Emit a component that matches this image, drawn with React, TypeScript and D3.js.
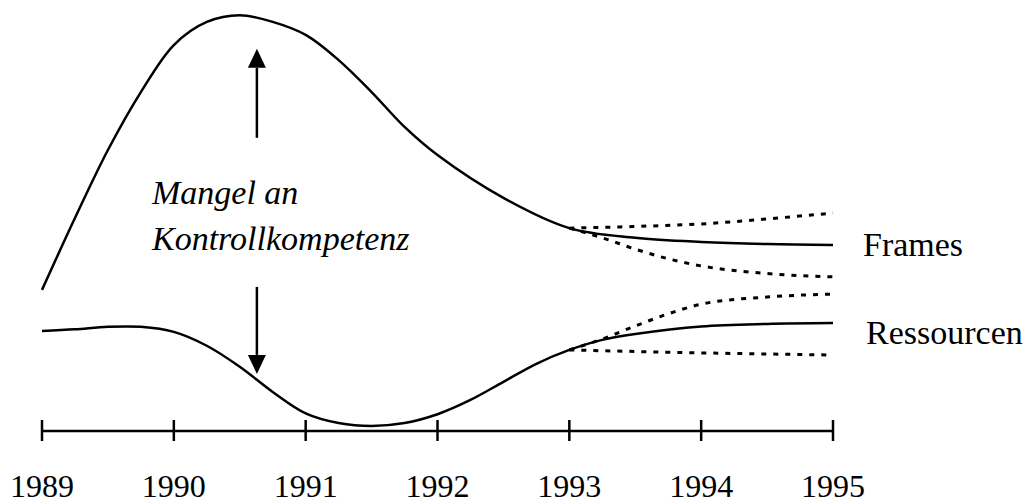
import React from "react";
import * as d3 from "d3";

const years = [1989, 1990, 1991, 1992, 1993, 1994, 1995];

// solid curves
const framesT = [1989, 1989.25, 1989.5, 1989.75, 1990, 1990.25, 1990.5, 1990.75, 1991, 1991.25, 1991.5, 1991.75, 1992, 1992.5, 1993, 1993.5, 1994, 1994.5, 1995];
const framesV = [33.6, 50.7, 66.9, 80.7, 91.9, 97.4, 99.0, 97.4, 94.3, 88.3, 80.7, 72.4, 65.7, 55.5, 48.3, 46.0, 45.0, 44.5, 44.3];

const resT = [1989, 1989.25, 1989.5, 1989.75, 1990, 1990.25, 1990.5, 1990.75, 1991, 1991.25, 1991.5, 1991.75, 1992, 1992.25, 1992.5, 1992.75, 1993, 1993.25, 1993.5, 1994, 1994.5, 1995];
const resV = [23.8, 24.2, 24.8, 24.8, 23.6, 20.3, 15.3, 9.3, 4.2, 1.9, 1.2, 1.9, 4.0, 7.4, 11.7, 16.0, 19.3, 21.7, 23.1, 24.9, 25.5, 25.7];

// dotted scenarios after 1993
const framesHighT = [1993, 1993.5, 1994, 1994.5, 1995];
const framesHighV = [48.3, 48.7, 49.3, 50.5, 51.9];
const framesLowT = [1993, 1993.25, 1993.5, 1993.75, 1994, 1994.5, 1995];
const framesLowV = [48.3, 46.0, 43.3, 41.0, 39.3, 37.5, 36.7];

const resHighT = [1993, 1993.25, 1993.5, 1993.75, 1994, 1994.5, 1995];
const resHighV = [19.3, 21.9, 25.0, 27.9, 30.2, 31.9, 32.6];
const resLowT = [1993, 1994, 1995];
const resLowV = [19.3, 18.6, 18.1];

const seriesLabels = ["Frames", "Ressourcen"];
const noteLines = ["Mangel an", "Kontrollkompetenz"];

// arrow annotation (year, from value, to value)
const arrowYear = 1990.63;
const arrowUp = [69.8, 91.0];
const arrowDown = [34.3, 13.6];

const W = 1028;
const H = 504;
const font = "Liberation Serif, serif";

const zip = (t: number[], v: number[]) => t.map((d, i) => [d, v[i]] as [number, number]);

const App = () => {
  const x = d3.scaleLinear().domain([1989, 1995]).range([42, 833]);
  const y = d3.scaleLinear().domain([0, 100]).range([431, 11]);
  const axisY = y(0);

  const line = d3
    .line<[number, number]>()
    .x((d) => x(d[0]))
    .y((d) => y(d[1]))
    .curve(d3.curveCatmullRom.alpha(0.5));

  const dotLine = d3
    .line<[number, number]>()
    .x((d) => x(d[0]))
    .y((d) => y(d[1]))
    .curve(d3.curveMonotoneX);

  const solid = [zip(framesT, framesV), zip(resT, resV)];
  const dotted = [
    zip(framesHighT, framesHighV),
    zip(framesLowT, framesLowV),
    zip(resHighT, resHighV),
    zip(resLowT, resLowV),
  ];

  const ax = x(arrowYear);
  const head = 19;
  const hw = 9;

  const arrow = (from: number, to: number) => {
    const y0 = y(from);
    const y1 = y(to);
    const dir = y1 < y0 ? 1 : -1;
    const base = y1 + dir * head;
    return (
      <g>
        <line x1={ax} x2={ax} y1={y0} y2={base} stroke="#000" strokeWidth={2.5} />
        <path d={`M${ax},${y1}L${ax - hw},${base}L${ax + hw},${base}Z`} fill="#000" />
      </g>
    );
  };

  const lastF = framesV[framesV.length - 1];
  const lastR = resV[resV.length - 1];

  return (
    <svg
      width={W}
      height={H}
      style={{ position: "absolute", left: 0, top: 0, background: "#fff" }}
    >
      <g fill="none" stroke="#000" strokeWidth={2.5}>
        {solid.map((d, i) => (
          <path key={i} d={line(d) || ""} />
        ))}
        {dotted.map((d, i) => (
          <path key={i} d={dotLine(d) || ""} strokeDasharray="5,7" strokeWidth={3} />
        ))}
      </g>

      {/* time axis */}
      <line x1={x(1989)} x2={x(1995)} y1={axisY} y2={axisY} stroke="#000" strokeWidth={2.5} />
      {years.map((yr) => (
        <g key={yr} transform={`translate(${x(yr)},0)`}>
          <line y1={axisY - 11} y2={axisY + 10} stroke="#000" strokeWidth={2.5} />
          <text y={497} textAnchor="middle" fontFamily={font} fontSize={32}>
            {yr}
          </text>
        </g>
      ))}

      {/* series labels */}
      <text x={x(1995) + 30} y={y(lastF) + 11} fontFamily={font} fontSize={34}>
        {seriesLabels[0]}
      </text>
      <text x={x(1995) + 33} y={y(lastR) + 21} fontFamily={font} fontSize={34}>
        {seriesLabels[1]}
      </text>

      {/* annotation */}
      {arrow(arrowUp[0], arrowUp[1])}
      {arrow(arrowDown[0], arrowDown[1])}
      {noteLines.map((t, i) => (
        <text key={t} x={152} y={204 + i * 46} fontFamily={font} fontStyle="italic" fontSize={34}>
          {t}
        </text>
      ))}
    </svg>
  );
};

export default App;
